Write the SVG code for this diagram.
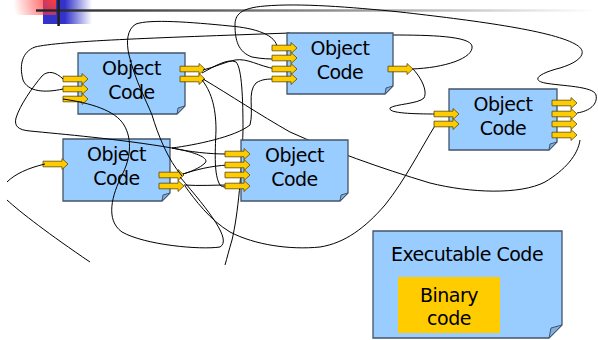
<svg xmlns="http://www.w3.org/2000/svg" xmlns:xlink="http://www.w3.org/1999/xlink" width="598" height="340" viewBox="0 0 598 340">
<style>
.box{fill:#99CCFF;stroke:#44546A;stroke-width:1.3}
.fold{fill:#7FAEE0;stroke:#44546A;stroke-width:1}
.t{font-family:"DejaVu Sans","Liberation Sans",sans-serif;font-size:19px;fill:#000;text-anchor:middle;letter-spacing:-0.5px}
.c{fill:none;stroke:#000;stroke-width:1}
.bin{fill:#FFCC00}
</style>
<defs>
<path id="arr" d="M0,-2.8 H19 V-5.5 L25,0 L19,5.5 V2.8 H0 Z" fill="#FFCC00" stroke="#5A4800" stroke-width="0.8"/>
<radialGradient id="rg" cx="55" cy="0" r="42" gradientUnits="userSpaceOnUse">
<stop offset="0" stop-color="#FF3B3B"/>
<stop offset="1" stop-color="#FF3B3B" stop-opacity="0"/>
</radialGradient>
<linearGradient id="bg" x1="43" y1="0" x2="92" y2="0" gradientUnits="userSpaceOnUse">
<stop offset="0.45" stop-color="#3333CC"/>
<stop offset="1" stop-color="#3333CC" stop-opacity="0"/>
</linearGradient>
<linearGradient id="lg" x1="36" y1="0" x2="595" y2="0" gradientUnits="userSpaceOnUse">
<stop offset="0" stop-color="#222"/>
<stop offset="0.5" stop-color="#888"/>
<stop offset="1" stop-color="#fff"/>
</linearGradient>
</defs>
<rect width="598" height="340" fill="#fff"/>
<g id="header">
<rect x="43" y="0" width="50" height="24" fill="url(#bg)"/>
<rect x="14" y="0" width="42" height="15" fill="url(#rg)"/>
<rect x="36" y="9.3" width="560" height="2.4" fill="url(#lg)"/>
<rect x="57.3" y="0" width="2.6" height="26" fill="#222"/>
</g>
<g id="nodeA">
<path class="box" d="M78,53 H185 V106 L177,114 H78 Z"/>
<path class="fold" d="M177,114 L185,106 L178,108 Z"/>
<text class="t" x="131.5" y="75">Object</text>
<text class="t" x="131.5" y="99">Code</text>
<use href="#arr" x="63" y="79"/><use href="#arr" x="63" y="89"/><use href="#arr" x="63" y="99"/>
<use href="#arr" x="180" y="69"/><use href="#arr" x="180" y="79"/>
</g>
<g id="nodeD">
<path class="box" d="M63,139 H170 V193 L162,201 H63 Z"/>
<path class="fold" d="M162,201 L170,193 L163,195 Z"/>
<text class="t" x="116.5" y="161">Object</text>
<text class="t" x="116.5" y="185">Code</text>
<use href="#arr" x="43" y="164"/>
<use href="#arr" x="159" y="175"/><use href="#arr" x="159" y="186"/>
</g>
<g id="connectors">
<path class="c" d="M63,79 C56,72 48,70 42,76 C32,88 20,105 16,118 C14,126 18,130 30,131 C60,134 120,139 172,148 C195,152 210,158 205,163 C200,168 190,172 183,174"/>
<path class="c" d="M172,148 C190,152 210,154 226,154"/>
<path class="c" d="M172,148 C195,145 235,137 250,125 C254,110 247,92 256,83 C262,79 268,79 275,79"/>
<path class="c" d="M63,89 C45,93 28,92 23,80 C19,65 22,52 35,47 C60,41 150,38 290,33"/>
<path class="c" d="M392,35 C430,35 470,36 472,46 C474,58 445,68 411,69"/>
<path class="c" d="M63,99 C90,103 115,110 124,125 C133,140 130,160 122,175 C112,195 105,220 122,232 C145,245 200,250 220,247 C232,240 210,212 180,177"/>
<path class="c" d="M277,48 C277,35 255,28 230,26 C190,22 150,19 136,24 C127,29 126,42 129,55 C135,80 146,100 152,115 C158,135 168,160 182,176"/>
<path class="c" d="M577,113 C590,111 598,104 596,95 C594,86 560,86 545,83 C530,80 540,73 560,68 C580,62 590,52 575,44 C550,30 470,20 400,12 C350,7 300,3 265,6 C240,8 235,15 235,25 C235,40 238,52 252,57 C262,59 270,59 277,59"/>
<path class="c" d="M203,70 C215,67 225,62 235,60 C248,58 258,66 276,69"/>
<path class="c" d="M202,73 C215,66 228,58 236,62 C242,68 243,100 243,130 C242,170 238,215 232,240 C229,250 227,258 225,265"/>
<path class="c" d="M202,80 C210,90 216,105 216,130 C215,155 214,175 220,185 C223,188 228,187 232,187"/>
<path class="c" d="M203,79 C230,95 260,115 290,132 C330,150 380,168 430,183 C470,193 520,195 545,182 C565,170 578,155 580,140"/>
<path class="c" d="M412,68 C420,76 428,90 424,98 C418,104 395,104 390,108 C388,113 410,114 437,114"/>
<path class="c" d="M185,186 C195,200 210,220 230,232 C255,245 290,250 320,247 C345,243 365,228 385,205 C405,180 420,150 436,124"/>
<path class="c" d="M183,174 C195,170 210,166 228,165"/>
<path class="c" d="M184,185 C200,186 215,185 228,185"/>
<path class="c" d="M7,182 C15,174 28,168 45,164"/>
<path class="c" d="M7,200 C20,212 50,235 90,262"/>
</g>
<g id="nodeB">
<path class="box" d="M287,33 H393 V86 L385,94 H287 Z"/>
<path class="fold" d="M385,94 L393,86 L386,88 Z"/>
<text class="t" x="340" y="55">Object</text>
<text class="t" x="340" y="79">Code</text>
<use href="#arr" x="272" y="48"/><use href="#arr" x="272" y="58"/><use href="#arr" x="272" y="69"/><use href="#arr" x="272" y="79"/>
<use href="#arr" x="388" y="69"/>
</g>
<g id="nodeC">
<path class="box" d="M449,89 H557 V142 L549,150 H449 Z"/>
<path class="fold" d="M549,150 L557,142 L550,144 Z"/>
<text class="t" x="503" y="111">Object</text>
<text class="t" x="503" y="135">Code</text>
<use href="#arr" x="434" y="114"/><use href="#arr" x="434" y="124"/>
<use href="#arr" x="552" y="103"/><use href="#arr" x="552" y="114"/><use href="#arr" x="552" y="124"/><use href="#arr" x="552" y="135"/>
</g>
<g id="nodeE">
<path class="box" d="M241,140 H348 V193 L340,201 H241 Z"/>
<path class="fold" d="M340,201 L348,193 L341,195 Z"/>
<text class="t" x="294.5" y="162">Object</text>
<text class="t" x="294.5" y="186">Code</text>
<use href="#arr" x="225" y="154"/><use href="#arr" x="225" y="165"/><use href="#arr" x="225" y="175"/><use href="#arr" x="225" y="186"/>
</g>
<g id="executable">
<path class="box" d="M373,231 H562 V325 L549,338 H373 Z"/>
<path class="fold" d="M549,338 L562,325 L551,328 Z"/>
<text class="t" x="467" y="261">Executable Code</text>
<rect class="bin" x="398" y="277" width="102" height="56"/>
<text class="t" x="449" y="302">Binary</text>
<text class="t" x="449" y="325">code</text>
</g>
</svg>
